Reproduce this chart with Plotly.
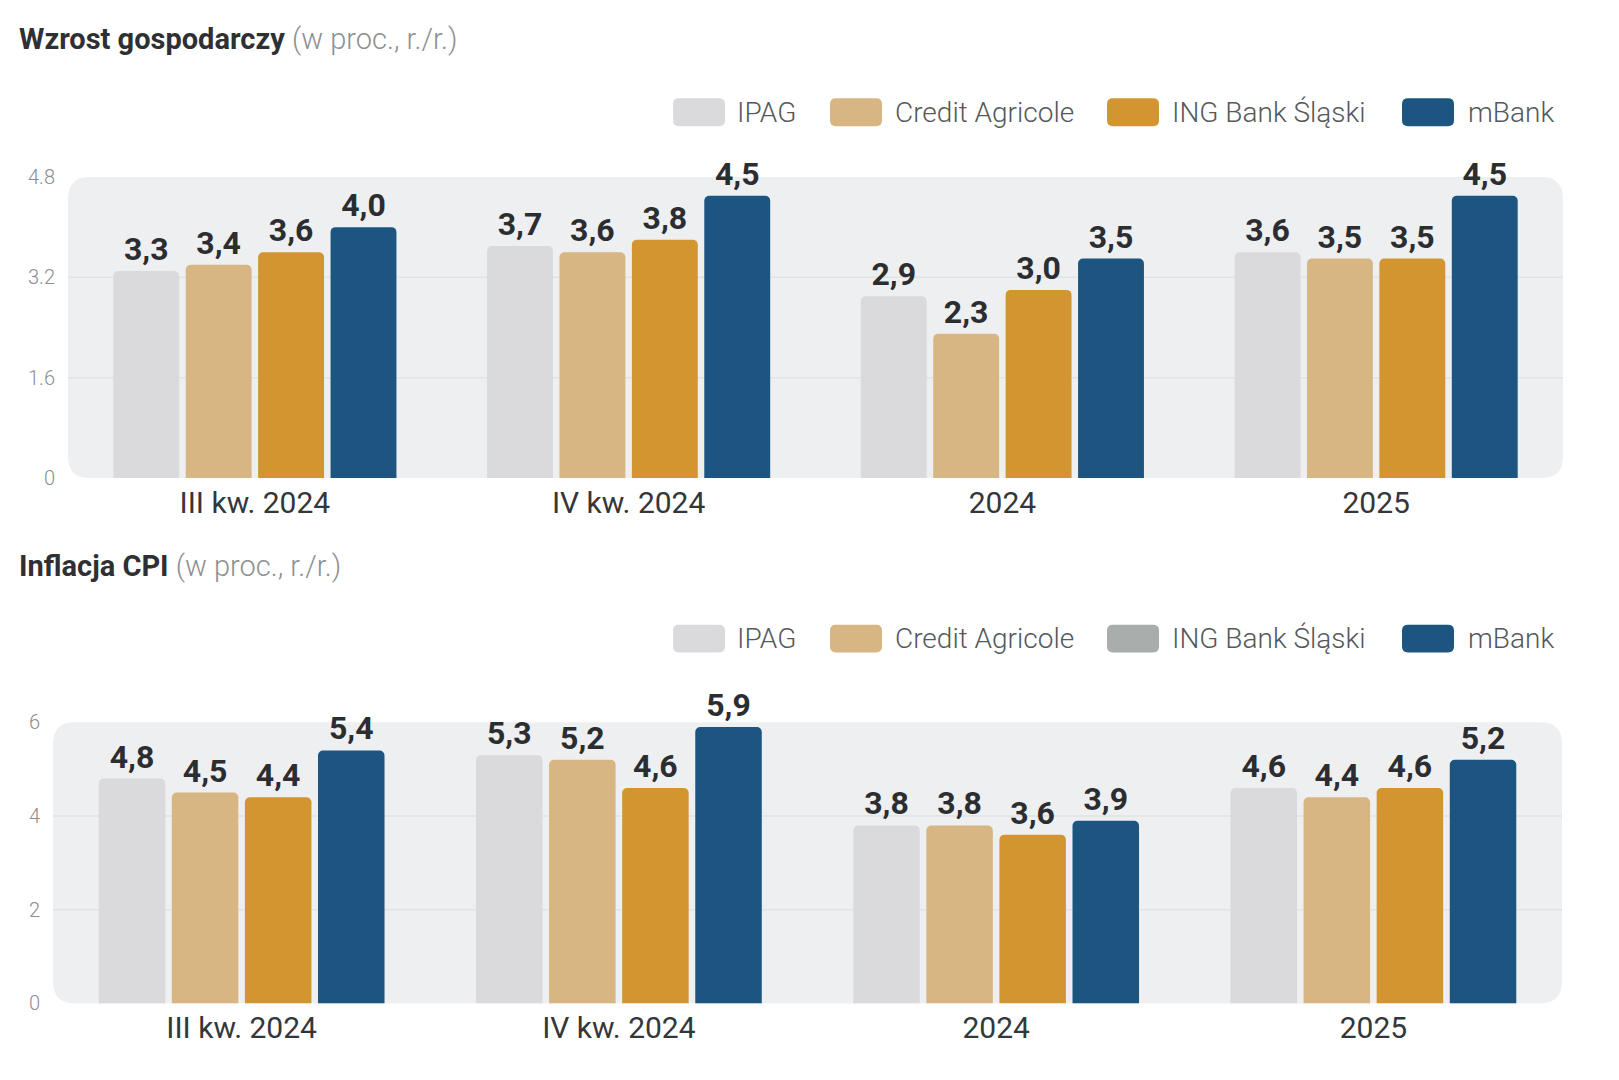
import plotly.graph_objects as go

# browser window size and the default 8px body margin of the written page
WIN_W, WIN_H = 1619, 1080
BODY_MARGIN = 8
W, H = WIN_W - 2 * BODY_MARGIN, WIN_H - 2 * BODY_MARGIN

# ---------------- data ----------------
categories = ["III kw. 2024", "IV kw. 2024", "2024", "2025"]
series_names = ["IPAG", "Credit Agricole", "ING Bank Śląski", "mBank"]

gdp_ipag = [3.3, 3.7, 2.9, 3.6]
gdp_credit_agricole = [3.4, 3.6, 2.3, 3.5]
gdp_ing = [3.6, 3.8, 3.0, 3.5]
gdp_mbank = [4.0, 4.5, 3.5, 4.5]

cpi_ipag = [4.8, 5.3, 3.8, 4.6]
cpi_credit_agricole = [4.5, 5.2, 3.8, 4.4]
cpi_ing = [4.4, 4.6, 3.6, 4.6]
cpi_mbank = [5.4, 5.9, 3.9, 5.2]

gdp_tickvals = [0, 1.6, 3.2, 4.8]
gdp_ticktext = ["0", "1.6", "3.2", "4.8"]
cpi_tickvals = [0, 2, 4, 6]
cpi_ticktext = ["0", "2", "4", "6"]

gdp_title = "Wzrost gospodarczy"
cpi_title = "Inflacja CPI"
unit_text = "(w proc., r./r.)"

# ---------------- styles ----------------
bar_colors = ["#dadadc", "#d8b683", "#d3952f", "#1b5580"]
gdp_legend_colors = ["#dadadc", "#d8b683", "#d3952f", "#1b5580"]
cpi_legend_colors = ["#dadadc", "#d8b683", "#a9aeac", "#1b5580"]
FONT = "Roboto, 'Open Sans', sans-serif"

# vertical mapping from reference rows to page rows (empirically calibrated)
Y_OFF, Y_SPAN = -9.9, 1101.6


def px(x):
    return (x - BODY_MARGIN) / W


def py(y):
    yw = Y_OFF + y * Y_SPAN / WIN_H
    return 1 - (yw - BODY_MARGIN) / H


def rrect(x0, y0, x1, y1, r):
    return (
        f"M{px(x0 + r)},{py(y0)} L{px(x1 - r)},{py(y0)} "
        f"Q{px(x1)},{py(y0)} {px(x1)},{py(y0 + r)} "
        f"L{px(x1)},{py(y1 - r)} Q{px(x1)},{py(y1)} {px(x1 - r)},{py(y1)} "
        f"L{px(x0 + r)},{py(y1)} Q{px(x0)},{py(y1)} {px(x0)},{py(y1 - r)} "
        f"L{px(x0)},{py(y0 + r)} Q{px(x0)},{py(y0)} {px(x0 + r)},{py(y0)} Z"
    )


def fmt(v):
    return f"{v:.1f}".replace(".", ",")


# plot boxes in reference pixels (left, top, right, bottom)
top_box = (68, 175, 1563, 477)
bot_box = (53, 722, 1562, 1004)

fig = go.Figure()

gdp_series = [gdp_ipag, gdp_credit_agricole, gdp_ing, gdp_mbank]
cpi_series = [cpi_ipag, cpi_credit_agricole, cpi_ing, cpi_mbank]

label_font = dict(family=FONT, size=32, color="#2b2d30", weight=700)

for name, vals, col in zip(series_names, gdp_series, bar_colors):
    fig.add_trace(go.Bar(
        x=categories, y=vals, name=name, marker=dict(color=col, line=dict(width=0)),
        text=[fmt(v) for v in vals], textposition="outside", cliponaxis=False,
        constraintext="none", textfont=label_font,
        xaxis="x", yaxis="y", showlegend=False, hoverinfo="skip",
    ))

for name, vals, col in zip(series_names, cpi_series, bar_colors):
    fig.add_trace(go.Bar(
        x=categories, y=vals, name=name, marker=dict(color=col, line=dict(width=0)),
        text=[fmt(v) for v in vals], textposition="outside", cliponaxis=False,
        constraintext="none", textfont=label_font,
        xaxis="x2", yaxis="y2", showlegend=False, hoverinfo="skip",
    ))

shapes = []
annotations = []

for box in (top_box, bot_box):
    shapes.append(dict(type="path", path=rrect(*box, 22), xref="paper", yref="paper",
                       fillcolor="#eeeff0", line=dict(width=0), layer="below"))

for vals, yref in ((gdp_tickvals, "y"), (cpi_tickvals, "y2")):
    xref = "x domain" if yref == "y" else "x2 domain"
    for v in vals[1:-1]:
        shapes.append(dict(type="line", xref=xref, yref=yref, x0=0, x1=1, y0=v, y1=v,
                           line=dict(color="#e1e3e3", width=1.5), layer="below"))

sw_x = [673, 830, 1107, 1402]
tx_x = [735, 893, 1170, 1466]
for yc, cols in ((110, gdp_legend_colors), (638, cpi_legend_colors)):
    for sx, tx, col, name in zip(sw_x, tx_x, cols, series_names):
        shapes.append(dict(type="path", path=rrect(sx, yc - 14, sx + 52, yc + 14, 6),
                           xref="paper", yref="paper", fillcolor=col, line=dict(width=0)))
        annotations.append(dict(x=px(tx), y=py(yc), xref="paper", yref="paper",
                                xanchor="left", yanchor="middle", showarrow=False,
                                text=name,
                                font=dict(family=FONT, size=28, color="#55585b", weight=300)))

for yc, t in ((37, gdp_title), (565, cpi_title)):
    annotations.append(dict(
        x=px(17), y=py(yc), xref="paper", yref="paper", xanchor="left", yanchor="middle",
        showarrow=False,
        text=f"<b>{t}</b> <span style='color:#8d9093;font-weight:300'>{unit_text}</span>",
        font=dict(family=FONT, size=29, color="#2e3033"),
    ))

xaxis_common = dict(type="category", range=[-0.5, 3.5], showgrid=False, zeroline=False,
                    showline=False, ticks="", fixedrange=True,
                    tickfont=dict(family=FONT, size=30, color="#34373a"),
                    ticklabelstandoff=4)
yaxis_common = dict(showgrid=False, zeroline=False, showline=False, ticks="",
                    fixedrange=True, ticklabelstandoff=12,
                    tickfont=dict(family=FONT, size=20, color="#8a8d90", weight=300))

fig.update_layout(
    width=W, height=H, margin=dict(l=0, r=0, t=0, b=0),
    paper_bgcolor="white", plot_bgcolor="rgba(0,0,0,0)",
    barmode="group", bargap=0.225, bargroupgap=0.09, barcornerradius=5,
    font=dict(family=FONT),
    xaxis=dict(domain=[px(top_box[0]), px(top_box[2])], anchor="y", **xaxis_common),
    yaxis=dict(domain=[py(top_box[3]), py(top_box[1])], anchor="x", range=[0, 4.8],
               tickvals=gdp_tickvals, ticktext=gdp_ticktext, **yaxis_common),
    xaxis2=dict(domain=[px(bot_box[0]), px(bot_box[2])], anchor="y2", **xaxis_common),
    yaxis2=dict(domain=[py(bot_box[3]), py(bot_box[1])], anchor="x2", range=[0, 6],
                tickvals=cpi_tickvals, ticktext=cpi_ticktext, **yaxis_common),
    shapes=shapes, annotations=annotations,
)

fig.write_html("out.html")
